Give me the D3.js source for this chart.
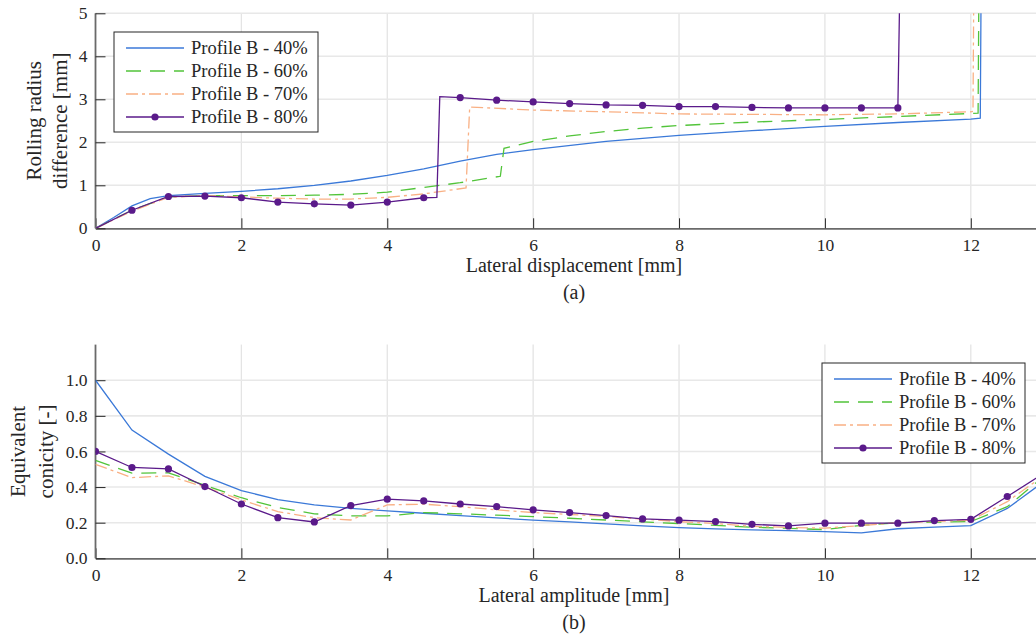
<!DOCTYPE html>
<html>
<head>
<meta charset="utf-8">
<script src="https://cdn.jsdelivr.net/npm/d3@7"></script>
<style>
body { margin: 0; background: #fff; }
svg { display: block; overflow: hidden; }
text { font-family: "Liberation Serif", "Times New Roman", Times, serif; fill: #262626; }
</style>
</head>
<body>
<script>
// series names + styles keyed by name
var seriesNames = ["Profile B - 40%", "Profile B - 60%", "Profile B - 70%", "Profile B - 80%"]

// (a) rolling radius difference vs lateral displacement
var rr40x = [0, 0.25, 0.5, 0.75, 1, 1.5, 2, 2.5, 3, 3.5, 4, 4.5, 5, 5.5, 6, 7, 8, 9, 10, 11, 12, 12.13, 12.15]
var rr40y = [0, 0.25, 0.52, 0.69, 0.76, 0.81, 0.86, 0.92, 1.0, 1.1, 1.23, 1.38, 1.56, 1.72, 1.83, 2.02, 2.16, 2.27, 2.37, 2.46, 2.54, 2.56, 8]

var rr60x = [0, 0.5, 1, 1.5, 2, 2.5, 3, 3.5, 4, 4.5, 5, 5.55, 5.6, 6, 6.5, 7, 7.5, 8, 9, 10, 11, 12, 12.1, 12.12]
var rr60y = [0, 0.42, 0.73, 0.76, 0.76, 0.76, 0.77, 0.79, 0.84, 0.95, 1.06, 1.21, 1.86, 2.02, 2.15, 2.25, 2.33, 2.39, 2.47, 2.53, 2.6, 2.67, 2.68, 8]

var rr70x = [0, 0.5, 1, 1.5, 2, 2.5, 3, 3.5, 4, 4.5, 5.08, 5.13, 6, 7, 8, 9, 10, 11, 12, 12.03, 12.05]
var rr70y = [0, 0.4, 0.72, 0.76, 0.73, 0.7, 0.68, 0.68, 0.72, 0.8, 0.94, 2.82, 2.75, 2.71, 2.66, 2.65, 2.64, 2.66, 2.71, 2.72, 8]

var rr80x = [0, 0.5, 1, 1.5, 2, 2.5, 3, 3.5, 4, 4.5, 4.68, 4.72, 5, 5.5, 6, 6.5, 7, 7.5, 8, 8.5, 9, 9.5, 10, 10.5, 11, 11.05]
var rr80y = [0, 0.42, 0.74, 0.75, 0.71, 0.61, 0.57, 0.54, 0.61, 0.71, 0.72, 3.06, 3.04, 2.98, 2.94, 2.9, 2.87, 2.86, 2.83, 2.83, 2.81, 2.8, 2.8, 2.8, 2.8, 8]

// (b) equivalent conicity vs lateral amplitude
var ampX = [0, 0.5, 1, 1.5, 2, 2.5, 3, 3.5, 4, 4.5, 5, 5.5, 6, 6.5, 7, 7.5, 8, 8.5, 9, 9.5, 10, 10.5, 11, 11.5, 12, 12.5, 13]
var cc40 = [1.0, 0.72, 0.585, 0.46, 0.38, 0.33, 0.30, 0.28, 0.266, 0.253, 0.24, 0.227, 0.214, 0.205, 0.193, 0.182, 0.172, 0.165, 0.16, 0.155, 0.15, 0.143, 0.166, 0.175, 0.183, 0.28, 0.43]
var cc60 = [0.55, 0.478, 0.48, 0.41, 0.34, 0.285, 0.25, 0.238, 0.238, 0.257, 0.25, 0.242, 0.234, 0.225, 0.215, 0.205, 0.195, 0.185, 0.175, 0.168, 0.161, 0.185, 0.2, 0.203, 0.206, 0.29, 0.46]
var cc70 = [0.528, 0.453, 0.463, 0.40, 0.328, 0.262, 0.228, 0.215, 0.30, 0.304, 0.29, 0.272, 0.257, 0.246, 0.235, 0.22, 0.206, 0.195, 0.18, 0.173, 0.169, 0.184, 0.2, 0.207, 0.214, 0.318, 0.465]
var cc80 = [0.60, 0.51, 0.502, 0.403, 0.305, 0.228, 0.204, 0.296, 0.332, 0.322, 0.305, 0.29, 0.272, 0.257, 0.24, 0.221, 0.214, 0.206, 0.191, 0.182, 0.197, 0.197, 0.197, 0.212, 0.219, 0.347, 0.477]

var xTicks = [0, 2, 4, 6, 8, 10, 12]
var rrTicks = [0, 1, 2, 3, 4, 5]
var ccTicks = [0, 0.2, 0.4, 0.6, 0.8, 1.0]

var serif = "'Liberation Serif', 'Times New Roman', Times, serif"

var styles = {
    "Profile B - 40%": {color: "#3b79d8", dash: null, marker: false},
    "Profile B - 60%": {color: "#52c43a", dash: "15,9", marker: false},
    "Profile B - 70%": {color: "#f9b084", dash: "12,4,3,4", marker: false},
    "Profile B - 80%": {color: "#5a1a8a", dash: null, marker: true}
}

var zipUp = function(xs, ys)
{
    return xs.map(function(x, i) { return {x: x, y: ys[i]} })
}

var svg = d3.select("body")
    .append("svg")
    .attr("width", 1036)
    .attr("height", 642)

var drawPanel = function(opts)
{
    var left = 95.5, right = 1052.5
    var xScale = d3.scaleLinear().domain([0, 13.12]).range([left, right])
    var yScale = d3.scaleLinear().domain(opts.yDomain).range([opts.bottom, opts.top])

    var g = svg.append("g").attr("id", opts.id)

    g.append("clipPath").attr("id", opts.id + "-clip")
        .append("rect")
        .attr("x", left).attr("y", opts.top)
        .attr("width", right - left).attr("height", opts.bottom - opts.top)

    // grid
    g.append("g")
        .attr("class", "grid")
        .selectAll("line.v")
        .data(xTicks.filter(function(t) { return t > 0 }))
        .enter().append("line")
        .attr("x1", function(d) { return xScale(d) })
        .attr("x2", function(d) { return xScale(d) })
        .attr("y1", opts.top).attr("y2", opts.bottom)
        .attr("stroke", "#e4e4e4").attr("stroke-width", 1.3)

    g.append("g")
        .attr("class", "grid")
        .selectAll("line.h")
        .data(opts.yTicks.filter(function(t) { return t > 0 }))
        .enter().append("line")
        .attr("x1", left).attr("x2", right)
        .attr("y1", function(d) { return yScale(d) })
        .attr("y2", function(d) { return yScale(d) })
        .attr("stroke", "#e8e8e8").attr("stroke-width", 1.6)

    // axes, ticks inside like matlab
    var xAxis = d3.axisBottom(xScale).tickValues(xTicks).tickFormat(d3.format("d"))
        .tickSizeInner(-10).tickSizeOuter(0).tickPadding(10)
    var yAxis = d3.axisLeft(yScale).tickValues(opts.yTicks).tickFormat(opts.yFormat)
        .tickSizeInner(-10).tickSizeOuter(0).tickPadding(8)

    var gx = g.append("g")
        .attr("transform", "translate(0," + opts.bottom + ")")
        .call(xAxis)
    var gy = g.append("g")
        .attr("transform", "translate(" + left + ",0)")
        .call(yAxis)

    gy.select(".domain").attr("d", "M0," + opts.top + "V" + opts.bottom)

    ;[gx, gy].forEach(function(a)
    {
        a.attr("font-family", serif).attr("font-size", 17.5)
        a.select(".domain").attr("stroke", "#6a6a6a").attr("stroke-width", 1.8)
        a.selectAll(".tick line").attr("stroke", "#262626").attr("stroke-width", 1)
        a.selectAll(".tick text").attr("fill", "#262626")
    })

    // lines
    var line = d3.line()
        .x(function(d) { return xScale(d.x) })
        .y(function(d) { return yScale(d.y) })

    var plot = g.append("g").attr("clip-path", "url(#" + opts.id + "-clip)")

    opts.series.forEach(function(s)
    {
        var st = styles[s.name]
        plot.append("path")
            .datum(s.points)
            .attr("d", line)
            .attr("fill", "none")
            .attr("stroke", st.color)
            .attr("stroke-width", 1.3)
            .attr("stroke-dasharray", st.dash)

        if (st.marker)
        {
            plot.selectAll("circle.m")
                .data(s.points.filter(opts.markerFilter))
                .enter().append("circle")
                .attr("cx", function(d) { return xScale(d.x) })
                .attr("cy", function(d) { return yScale(d.y) })
                .attr("r", 3.6)
                .attr("fill", st.color)
        }
    })

    // axis labels
    g.append("text")
        .attr("x", 574).attr("y", opts.bottom + 44)
        .attr("text-anchor", "middle")
        .attr("font-family", serif)
        .style("font-size", "20px")
        .text(opts.xLabel)

    g.append("text")
        .attr("x", 574).attr("y", opts.bottom + 71)
        .attr("text-anchor", "middle")
        .attr("font-family", serif)
        .style("font-size", "20px")
        .text(opts.caption)

    opts.yLabel.forEach(function(txt, i)
    {
        g.append("text")
            .attr("transform", "translate(" + opts.yLabelX[i] + "," + ((opts.top + opts.bottom) / 2) + ") rotate(-90)")
            .attr("text-anchor", "middle")
            .attr("font-family", serif)
            .style("font-size", "21px")
            .text(txt)
    })

    // legend
    var lg = g.append("g").attr("transform", "translate(" + opts.legend.x + "," + opts.legend.y + ")")
    lg.append("rect")
        .attr("x", 0).attr("y", 0)
        .attr("width", opts.legend.w).attr("height", 100)
        .attr("fill", "#fff").attr("stroke", "#262626").attr("stroke-width", 1)

    seriesNames.forEach(function(name, i)
    {
        var st = styles[name]
        var yy = 16 + i * 23
        lg.append("line")
            .attr("x1", 12).attr("x2", 70)
            .attr("y1", yy).attr("y2", yy)
            .attr("stroke", st.color).attr("stroke-width", 1.3)
            .attr("stroke-dasharray", st.dash)
        if (st.marker)
        {
            lg.append("circle").attr("cx", 41).attr("cy", yy).attr("r", 3.6).attr("fill", st.color)
        }
        lg.append("text")
            .attr("x", 77).attr("y", yy)
            .attr("dy", "0.35em")
            .attr("font-family", serif)
            .style("font-size", "18.5px")
            .text(name)
    })
}

var halfStep = function(d)
{
    return Math.abs(d.x * 2 - Math.round(d.x * 2)) < 1e-6
}

drawPanel({
    id: "panelA",
    top: 13.3, bottom: 228.3,
    yDomain: [0, 5],
    yTicks: rrTicks,
    yFormat: d3.format("d"),
    xLabel: "Lateral displacement [mm]",
    caption: "(a)",
    yLabel: ["Rolling radius", "difference [mm]"],
    yLabelX: [41, 67],
    legend: {x: 114, y: 32, w: 204},
    markerFilter: function(d) { return d.x > 0 && halfStep(d) },
    series: [
        {name: seriesNames[0], points: zipUp(rr40x, rr40y)},
        {name: seriesNames[1], points: zipUp(rr60x, rr60y)},
        {name: seriesNames[2], points: zipUp(rr70x, rr70y)},
        {name: seriesNames[3], points: zipUp(rr80x, rr80y)}
    ]
})

drawPanel({
    id: "panelB",
    top: 344.6, bottom: 558.3,
    yDomain: [0, 1.2],
    yTicks: ccTicks,
    yFormat: d3.format(".1f"),
    xLabel: "Lateral amplitude [mm]",
    caption: "(b)",
    yLabel: ["Equivalent", "conicity [-]"],
    yLabelX: [25, 53],
    legend: {x: 822, y: 363, w: 203},
    markerFilter: halfStep,
    series: [
        {name: seriesNames[0], points: zipUp(ampX, cc40)},
        {name: seriesNames[1], points: zipUp(ampX, cc60)},
        {name: seriesNames[2], points: zipUp(ampX, cc70)},
        {name: seriesNames[3], points: zipUp(ampX, cc80)}
    ]
})
</script>
</body>
</html>
